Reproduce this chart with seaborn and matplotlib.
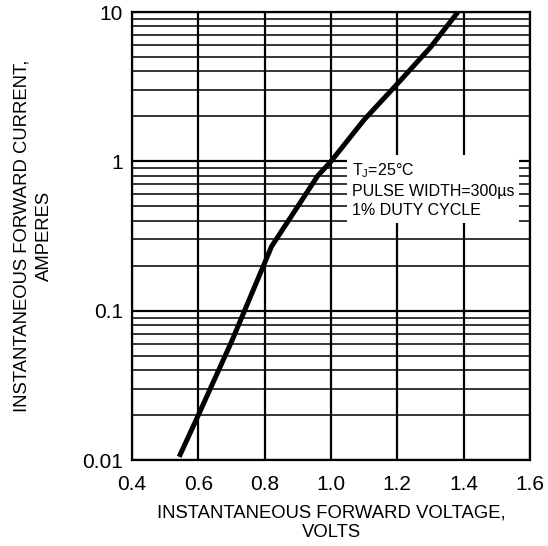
import numpy as np
import pandas as pd
import matplotlib
matplotlib.use('Agg')
import matplotlib.pyplot as plt
import seaborn as sns

# forward voltage (V) vs forward current (A)
volts = [0.542, 0.60, 0.70, 0.821, 0.90, 0.96, 1.00, 1.10, 1.20, 1.30, 1.383]
amps = [0.0105, 0.020, 0.062, 0.27, 0.50, 0.80, 1.00, 1.90, 3.30, 5.80, 10.0]

x_ticks = [0.4, 0.6, 0.8, 1.0, 1.2, 1.4, 1.6]
x_labels = ['0.4', '0.6', '0.8', '1.0', '1.2', '1.4', '1.6']
y_ticks = [0.01, 0.1, 1, 10]
y_labels = ['0.01', '0.1', '1', '10']

note_lines = ['T$_{\\mathrm{J}}$=25°C', 'PULSE WIDTH=300µs', '1% DUTY CYCLE']


def main():
    sns.set_style('white')
    plt.rcParams['font.family'] = ['Liberation Sans', 'DejaVu Sans']
    plt.rcParams['mathtext.fontset'] = 'custom'
    plt.rcParams['mathtext.rm'] = 'Liberation Sans'
    plt.rcParams['mathtext.it'] = 'Liberation Sans'
    plt.rcParams['text.color'] = 'black'
    plt.rcParams['axes.labelcolor'] = 'black'
    plt.rcParams['xtick.color'] = 'black'
    plt.rcParams['ytick.color'] = 'black'

    df = pd.DataFrame({'vf': volts, 'if': amps})

    fig = plt.figure(figsize=(5.48, 5.46), dpi=100)
    ax = fig.add_axes([0.241, 0.1575, 0.726, 0.8205])

    sns.lineplot(data=df, x='vf', y='if', ax=ax, color='black', linewidth=3.6,
                 solid_capstyle='butt', zorder=5)

    ax.set_yscale('log')
    ax.set_xlim(0.4, 1.6)
    ax.set_ylim(0.01, 10)

    ax.set_xticks(x_ticks)
    ax.set_xticklabels(x_labels, fontsize=15)
    ax.set_yticks(y_ticks)
    ax.set_yticklabels(y_labels, fontsize=15)
    ax.yaxis.set_minor_locator(matplotlib.ticker.LogLocator(base=10, subs=np.arange(2, 10)))
    ax.yaxis.set_minor_formatter(matplotlib.ticker.NullFormatter())
    ax.tick_params(axis='x', which='both', length=0, pad=11)
    ax.tick_params(axis='y', which='both', length=0, pad=6.5)

    ax.grid(True, which='major', axis='both', color='black', linewidth=1.6)
    ax.grid(True, which='minor', axis='y', color='black', linewidth=1.1)
    ax.set_axisbelow(True)
    for s in ax.spines.values():
        s.set_linewidth(1.6)
        s.set_color('black')

    ax.set_xlabel('INSTANTANEOUS FORWARD VOLTAGE,\nVOLTS', fontsize=13.3, linespacing=1.2,
                  labelpad=7)
    ax.set_ylabel('INSTANTANEOUS FORWARD CURRENT,\nAMPERES', fontsize=13.3, linespacing=1.4,
                  labelpad=21)

    ax.text(1.063, 1.0, '\n'.join(note_lines), fontsize=11.5, va='top', ha='left',
            linespacing=1.33, zorder=4,
            bbox=dict(facecolor='white', edgecolor='none', pad=3.5))

    fig.savefig('out.png', dpi=100)


if __name__ == '__main__':
    main()
